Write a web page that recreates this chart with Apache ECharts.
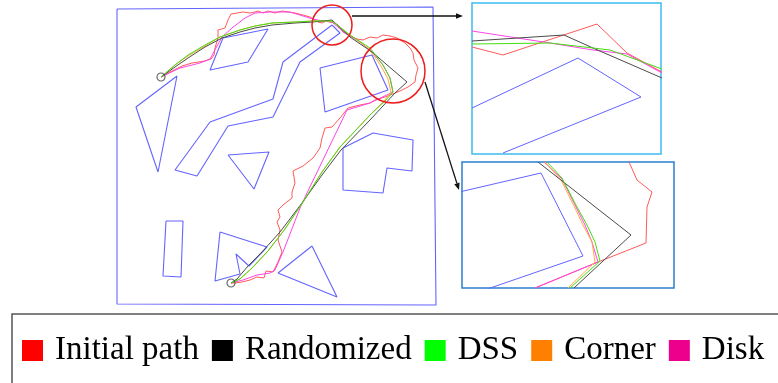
<!DOCTYPE html>
<html><head><meta charset="utf-8">
<script src="https://cdn.jsdelivr.net/npm/echarts@6/dist/echarts.min.js"></script>
<style>html,body{margin:0;padding:0;background:#fff}#c{width:778px;height:383px}</style>
</head><body><div id="c"></div><script>
// Sheet coordinates (x right, y down) for the workspace, its obstacles and the paths.
const workspace = [[117,9],[433,7],[436,305],[117,304]];
const obstacles = [
  [[223,38],[268,29],[248,62],[210,70]],
  [[332,25],[340,33],[300,62],[273,117],[228,126],[197,176],[175,170],[210,122],[273,99],[283,62]],
  [[177,76],[136,107],[158,172]],
  [[320,68],[372,55],[388,90],[325,112]],
  [[228,155],[269,152],[254,189]],
  [[343,148],[373,133],[413,140],[412,171],[387,168],[383,193],[343,190]],
  [[166,221],[183,221],[181,277],[163,276]],
  [[220,232],[267,247],[249,266],[236,254],[240,274],[215,281]],
  [[312,246],[278,273],[337,297]]
];
const endpoints = [[161,77],[231,283]];

const initialPath = [[161,77],[170,72],[182,66],[192,63],[205,61],[211,59],[214,55],[215,48],[218,38],[218,30],[225,28],[228,20],[231,14],[237,13],[243,12],[250,13],[255,12],[258,11],[263,13],[268,11],[275,13],[282,11],[288,12],[295,13],[303,15],[310,17],[318,22],[322,23],[326,21],[334,23],[338,25],[343,32],[350,36],[357,39],[363,40],[370,37],[377,38],[383,35],[390,36],[397,38],[405,43],[410,48],[413,53],[414,60],[418,68],[416,75],[415,82],[408,87],[400,91],[395,93],[385,97],[375,100],[370,103],[360,105],[348,108],[340,118],[332,127],[325,128],[322,138],[320,148],[313,158],[303,166],[293,171],[295,183],[292,192],[292,198],[283,205],[278,210],[280,217],[277,222],[280,230],[278,240],[282,252],[278,262],[273,272],[266,271],[264,278],[257,277],[250,280],[242,282],[235,283],[231,283]];
const randomizedPath = [[161,77],[175,67],[188,58],[205,47],[222,38],[240,32],[255,28],[272,25],[295,23],[313,22],[332,20],[350,37],[372,52],[407,82],[395,93],[370,120],[341,150],[322,175],[302,203],[280,232],[262,252],[248,266],[237,279],[231,283]];
const dssPath = [[161,77],[175,65],[188,55],[205,45],[220,37],[240,30],[255,26],[272,23],[295,22],[313,21],[332,21],[350,35],[370,48],[383,65],[390,78],[393,92],[386,100],[370,115],[340,147],[322,172],[303,202],[285,229],[268,251],[252,268],[240,279],[231,283]];
const cornerPath = [[161,77],[175,65],[188,56],[205,46],[220,37],[240,30],[255,26],[272,23],[295,22],[313,21],[332,21],[350,35],[369,49],[381,66],[388,79],[391,92],[385,100],[370,115],[340,147],[322,172],[303,202],[285,229],[268,251],[252,268],[240,279],[231,283]];
const diskPath = [[161,77],[180,68],[200,63],[210,59],[216,48],[222,37],[232,28],[245,18],[255,13],[270,12],[290,12],[303,16],[313,19],[322,21],[332,22],[345,33],[360,42],[372,52],[383,65],[390,78],[393,92],[370,103],[347,110],[307,193],[300,208],[283,252],[275,270],[270,273],[257,275],[243,280],[231,283]];

// Detail view 1 (top bend)
const d1Obstacle = [[472,108],[578,58],[641,97],[503,153]];
const d1Initial = [[472,47],[503,55],[597,24],[627,53],[662,72]];
const d1Randomized = [[472,41],[564,35],[593,48],[662,78]];
const d1Dss = [[472,44],[550,43],[610,50],[662,69]];
const d1Disk = [[472,31],[550,43],[593,50],[627,54],[662,73]];

// Detail view 2 (right corner)
const d2Obstacle = [[455,193],[541,173],[583,256],[470,295]];
const d2Initial = [[629,162],[637,180],[652,192],[647,207],[646,243],[598,262],[535,288]];
const d2Randomized = [[538,162],[631,235],[574,288]];
const d2Dss = [[547,162],[562,178],[577,207],[587,225],[595,242],[600,261],[570,288]];
const d2Corner = [[545,162],[561,180],[575,208],[583,225],[592,242],[595,262],[568,288]];
const d2Disk = [[544,162],[562,179],[576,207],[585,225],[592,242],[598,262],[535,288]];

// Annotations: magnifier circles [cx, cy, r] and leader arrows
const lensCircles = [[332,25,20],[393,71,32]];
const leaders = [[[352,16],[463,16]],[[425,82],[459,190]]];

const legendNames = ['Initial path','Randomized','DSS','Corner','Disk'];
const legendColors = ['#ff0000','#000000','#00ff00','#ff8000','#ec008c'];
const strokeColors = {
  'Initial path':'#ff5a5a', 'Randomized':'#4a4a4a', 'DSS':'#44dd11', 'Corner':'#ffaa44', 'Disk':'#ff44e8'
};
const blue = '#6464ff';

function line(name, pts, color, grid, z, closed, width) {
  const data = closed ? pts.concat([pts[0]]) : pts;
  const idx = legendNames.indexOf(name);
  return {
    type:'line', name, data, xAxisIndex:grid, yAxisIndex:grid,
    symbol:'none', silent:true, animation:false, z, clip:true,
    itemStyle:{color: idx >= 0 ? legendColors[idx] : color},
    lineStyle:{color, width: width || 1}
  };
}

const series = [];
series.push(line('workspace', workspace, blue, 0, 2, true, 1.1));
obstacles.forEach(p => series.push(line('obstacle', p, blue, 0, 2, true, 1.1)));
series.push(line('Initial path', initialPath, strokeColors['Initial path'], 0, 3));
series.push(line('Disk', diskPath, strokeColors['Disk'], 0, 4));
series.push(line('Corner', cornerPath, strokeColors['Corner'], 0, 5));
series.push(line('Randomized', randomizedPath, strokeColors['Randomized'], 0, 6));
series.push(line('DSS', dssPath, strokeColors['DSS'], 0, 7));
series.push({type:'scatter', name:'endpoints', data:endpoints, xAxisIndex:0, yAxisIndex:0,
  symbol:'circle', symbolSize:8, silent:true, animation:false, z:9, clip:false,
  itemStyle:{color:'rgba(255,255,255,0)', borderColor:'#444', borderWidth:1.2}});

series.push(line('obstacle', d1Obstacle, blue, 1, 2, false));
series.push(line('Initial path', d1Initial, strokeColors['Initial path'], 1, 3));
series.push(line('Disk', d1Disk, strokeColors['Disk'], 1, 4));
series.push(line('Randomized', d1Randomized, strokeColors['Randomized'], 1, 6));
series.push(line('DSS', d1Dss, strokeColors['DSS'], 1, 7));

series.push(line('obstacle', d2Obstacle, blue, 2, 2, false));
series.push(line('Initial path', d2Initial, strokeColors['Initial path'], 2, 3));
series.push(line('Disk', d2Disk, strokeColors['Disk'], 2, 4));
series.push(line('Corner', d2Corner, strokeColors['Corner'], 2, 5));
series.push(line('Randomized', d2Randomized, strokeColors['Randomized'], 2, 6));
series.push(line('DSS', d2Dss, strokeColors['DSS'], 2, 7));

function axisPair(min, max) { return {type:'value', min, max, show:false}; }

const chart = echarts.init(document.getElementById('c'), null, {renderer:'canvas'});
chart.setOption({
  backgroundColor:'#fff',
  animation:false,
  grid:[
    {left:0, top:0, width:778, height:383, show:false},
    {left:472, top:3, width:189, height:151, show:true, borderColor:'#3cbcf0', borderWidth:1.5, backgroundColor:'transparent'},
    {left:462, top:162, width:212, height:126, show:true, borderColor:'#2a80d0', borderWidth:1.5, backgroundColor:'transparent'}
  ],
  xAxis:[
    Object.assign(axisPair(0,778),{gridIndex:0}),
    Object.assign(axisPair(472,661),{gridIndex:1}),
    Object.assign(axisPair(462,674),{gridIndex:2})
  ],
  yAxis:[
    Object.assign(axisPair(0,383),{gridIndex:0, inverse:true}),
    Object.assign(axisPair(3,154),{gridIndex:1, inverse:true}),
    Object.assign(axisPair(162,288),{gridIndex:2, inverse:true})
  ],
  legend:{
    data: legendNames.map((n,i) => ({name:n, itemStyle:{color:legendColors[i]}})),
    left:22, top:334, padding:0, icon:'rect', itemWidth:21, itemHeight:21, itemGap:13,
    selectedMode:false,
    textStyle:{fontFamily:'Liberation Serif', fontSize:33, color:'#000', padding:[0,0,0,7], lineHeight:22}
  },
  series
});

// Magnifier circles, leader arrows and the legend frame
const g = [];
lensCircles.forEach(c => {
  const p = chart.convertToPixel({gridIndex:0}, [c[0], c[1]]);
  const e = chart.convertToPixel({gridIndex:0}, [c[0] + c[2], c[1]]);
  g.push({type:'circle', shape:{cx:p[0], cy:p[1], r:e[0]-p[0]}, style:{fill:null, stroke:'#ee1c1c', lineWidth:1.5}, z:20});
});
leaders.forEach(l => {
  const a = chart.convertToPixel({gridIndex:0}, l[0]);
  const b = chart.convertToPixel({gridIndex:0}, l[1]);
  const ang = Math.atan2(b[1]-a[1], b[0]-a[0]);
  const len = 7, hw = 2.8;
  const bx = b[0] - len*Math.cos(ang), by = b[1] - len*Math.sin(ang);
  g.push({type:'line', shape:{x1:a[0], y1:a[1], x2:bx, y2:by}, style:{stroke:'#111', lineWidth:1.3}, z:20});
  g.push({type:'polygon', shape:{points:[
    [b[0], b[1]],
    [bx + hw*Math.sin(ang), by - hw*Math.cos(ang)],
    [bx - hw*Math.sin(ang), by + hw*Math.cos(ang)]
  ]}, style:{fill:'#111'}, z:20});
});
g.push({type:'rect', shape:{x:12, y:314, width:800, height:120}, style:{fill:null, stroke:'#555', lineWidth:1.5}, z:1});
chart.setOption({graphic:g});
</script></body></html>
